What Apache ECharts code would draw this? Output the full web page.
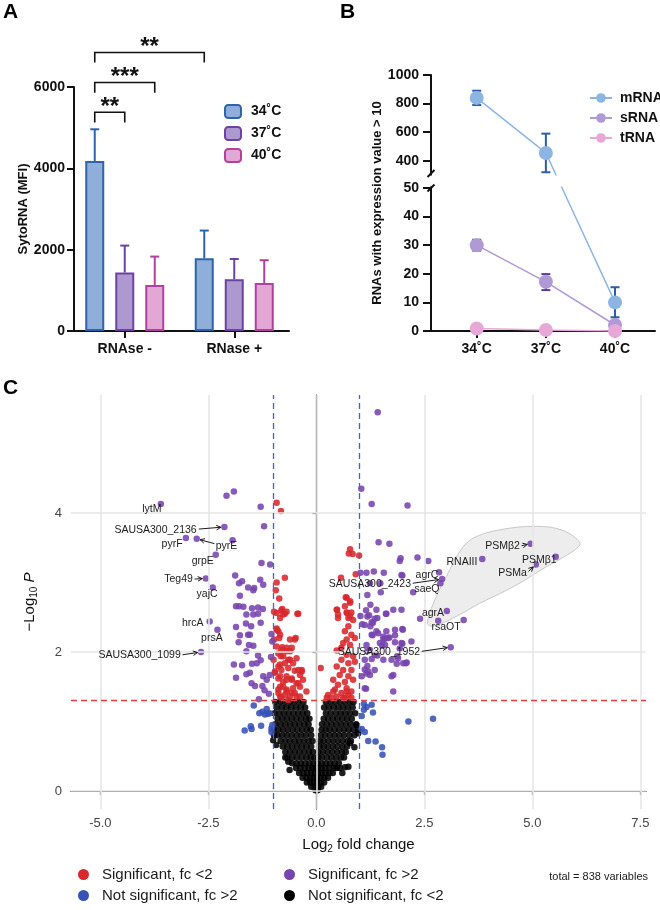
<!DOCTYPE html>
<html><head><meta charset="utf-8">
<script src="https://cdn.jsdelivr.net/npm/echarts@6.0.0/dist/echarts.min.js"></script>
<style>html,body{margin:0;padding:0;background:#fff}#c{width:660px;height:910px}</style>
</head><body><div id="c"></div>
<script>
// ================= DATA =================
// Panel A
const groupsA = ['RNAse -', 'RNase +'];
const tempsA = ['34˚C', '37˚C', '40˚C'];
const meanA34 = [4180, 1790];
const upperA34 = [4960, 2470];
const meanA37 = [1440, 1270];
const upperA37 = [2100, 1770];
const meanA40 = [1130, 1180];
const upperA40 = [1830, 1740];
const ticksA = [0, 2000, 4000, 6000];
// significance: [fromGroup, fromBar, toGroup, toBar, stars]
const sigA = [[0, 0, 0, 1, '**'], [0, 0, 0, 2, '***'], [0, 0, 1, 0, '**']];

// Panel B
const tempsB = ['34˚C', '37˚C', '40˚C'];
const mRNA = [840, 455, 10];
const mRNAlow = [790, 320, 4.8];
const mRNAhigh = [890, 590, 15.3];
const sRNA = [30, 17.2, 2.1];
const sRNAlow = [28.1, 14.3, null];
const sRNAhigh = [31.9, 19.9, null];
const tRNA = [0.9, 0.35, 0];
const ticksBlow = [0, 10, 20, 30, 40, 50];
const ticksBhigh = [400, 600, 800, 1000];

// Panel C (volcano): [log2FC, -log10 P]
const sigLargeFC = [ // purple
[-3.60,4.13],[-2.13,3.80],[-3.02,3.64],[-2.77,3.63],[-1.94,3.61],[-2.33,3.40],[-2.56,3.06],[-2.40,2.93],[-2.47,2.44],[-2.29,2.32],[-2.67,2.00],
[-2.08,4.25],[-1.91,4.31],[-1.29,4.09],[-1.21,3.81],[-1.27,3.28],[-1.07,3.26],
[-1.88,3.10],[-1.79,2.99],[-1.72,3.02],[-1.58,2.93],[-1.44,2.92],[-1.46,2.89],[-1.30,3.04],[-1.23,2.97],[-1.77,2.81],
[-1.86,2.66],[-1.79,2.66],[-1.69,2.65],[-1.49,2.63],[-1.35,2.64],[-1.24,2.62],[-1.46,2.54],[-1.62,2.54],[-1.35,2.55],
[-1.86,2.36],[-1.63,2.41],[-1.51,2.37],[-1.29,2.42],[-1.04,2.26],[-1.58,2.25],[-1.77,2.24],[-1.54,2.25],
[-1.80,2.14],[-1.56,2.10],[-1.46,2.09],[-1.62,2.01],[-1.35,1.95],[-1.02,2.15],
[-1.91,1.82],[-1.72,1.81],[-1.49,1.83],[-1.38,1.84],[-1.29,1.88],[-1.05,1.93],
[-1.54,1.70],[-1.62,1.68],[-1.86,1.63],[-1.23,1.65],[-1.15,1.60],[-1.25,1.51],[-1.08,1.67],[-1.50,1.55],[-1.42,1.51],[-1.33,1.32],[-1.20,1.45],[-1.10,1.40],
[1.42,5.45],[1.04,4.35],[1.28,4.13],[2.11,4.11],[1.44,3.58],[1.69,3.56],[1.95,3.35],[2.34,3.36],[2.59,3.31],[3.84,3.34],[4.96,3.56],[5.54,3.37],[5.08,3.26],
[2.84,3.15],[2.91,3.05],[2.87,2.99],[1.33,3.16],[1.56,3.14],[1.99,3.10],[1.02,3.14],[1.16,3.14],[1.97,3.11],[1.93,3.31],
[1.24,2.99],[1.48,2.99],[1.49,2.86],[2.24,2.86],[1.18,2.82],[1.25,2.68],[1.61,2.55],[1.15,2.60],[1.22,2.53],[1.39,2.61],[1.78,2.61],[1.97,2.61],
[3.02,2.59],[2.82,2.45],[3.41,2.46],[2.40,2.48],[1.99,2.33],[1.35,2.48],[1.41,2.49],[1.02,2.52],[1.06,2.40],[1.25,2.37],[1.12,2.39],[1.31,2.42],
[1.30,2.24],[1.43,2.27],[1.58,2.19],[1.69,2.21],[1.82,2.24],[1.52,2.09],[1.99,2.12],[3.11,2.07],[1.62,2.30],[1.82,2.32],[2.00,2.32],[1.28,2.25],
[1.24,2.03],[1.41,1.95],[1.87,1.94],[1.86,1.83],[2.07,1.84],[1.18,1.80],[1.18,2.51],[1.28,2.43],[1.62,2.55],[1.39,2.30],[1.55,2.22],[1.66,2.20],
[1.47,2.13],[1.59,2.10],[1.82,2.14],[1.93,2.05],[2.20,2.15],[1.18,2.01],[1.35,1.96],[1.12,1.89],[1.28,1.90],[1.74,1.89],[1.89,1.91],[2.09,1.85],
[1.05,1.65],[1.16,1.69],[1.24,1.67],[1.15,1.47],[1.74,1.65],[1.12,1.75],[1.97,2.13],[1.78,1.67],[1.78,1.43],[1.20,1.72],[1.35,1.74],[2.01,1.84],[1.12,1.48],[1.55,1.89],[1.16,2.10],[1.55,2.18]
];
const sigSmallFC = [ // red
[-0.92,4.15],[-0.82,4.03],[-0.73,3.07],[-0.92,3.00],[-0.94,2.89],[-0.86,2.77],[-0.98,2.58],[-0.81,2.60],[-0.73,2.55],[-0.84,2.49],[-0.44,2.55],[-0.92,2.34],[-0.88,2.30],[-0.86,2.20],[-0.98,2.18],
[-0.79,2.62],[-0.48,2.20],[-0.61,2.18],
[-0.57,2.06],[-0.69,2.01],[-0.79,2.07],[-0.88,1.98],[-0.82,1.94],[-0.61,1.89],[-0.46,1.91],[-0.73,1.84],[-0.88,1.79],[-0.96,1.72],[-0.81,1.74],[-0.65,1.77],[-0.50,1.73],[-0.34,1.74],[-0.38,1.67],[-0.69,1.65],[-0.88,1.62],[-0.77,1.57],[-0.57,1.60],[-0.42,1.55],[-0.31,1.60],[-0.84,1.50],[-0.69,1.46],[-0.54,1.48],[-0.38,1.50],[-0.88,1.41],[-0.73,1.38],[-0.57,1.41],[-0.46,1.36],[-0.23,1.43],[-0.81,1.34],[-0.65,1.31],
[-0.92,2.56],[-0.77,2.54],[-0.69,2.58],[-0.42,2.55],[-0.50,2.18],[-0.92,2.32],[-0.84,2.25],[-0.92,2.08],[-0.81,2.03],[-0.69,2.06],[-0.61,2.01],[-0.77,1.94],[-0.65,1.89],[-0.54,1.84],[-0.42,1.74],[-0.34,1.72],[-0.84,1.82],[-0.99,1.89],[-0.96,1.70],[-0.84,1.65],[-0.69,1.60],[-0.57,1.62],[-0.46,1.55],[-0.77,1.50],[-0.88,1.46],[-0.69,1.43],[-0.50,1.41],[-0.38,1.36],[-0.61,1.36],[-0.84,1.36],[0.10,1.77],
[0.78,3.48],[0.75,3.42],[0.84,3.41],[0.99,3.39],[0.57,3.07],[0.91,3.12],[0.68,2.79],[0.70,2.78],[0.78,2.71],[0.48,2.61],[0.50,2.54],[0.71,2.56],[0.74,2.49],[0.81,2.57],[0.74,2.37],[0.66,2.30],[0.81,2.25],[0.70,2.18],[0.89,2.20],[0.62,2.13],[0.78,2.10],[0.58,2.06],[0.47,2.02],[0.70,1.96],[0.85,1.94],[0.58,1.89],[0.74,1.84],[0.89,1.86],[0.47,1.79],[0.62,1.74],[0.81,1.74],[0.54,1.67],[0.74,1.65],[0.39,1.60],[0.66,1.57],[0.85,1.60],[0.50,1.53],[0.70,1.48],[0.39,1.43],[0.58,1.41],[0.81,1.43],[0.47,1.36],[0.24,1.34],[0.66,1.34],
[0.47,2.61],[0.70,2.57],[0.78,2.51],[0.50,2.49],[0.85,2.46],[0.78,2.73],[0.66,2.66],[0.43,1.46],[0.27,1.38],[0.35,1.34],[0.62,1.34],[0.74,1.38],[0.81,1.34],[0.70,1.43]
];
const nsLargeFC = [ // blue
[-1.45,1.23],[-1.32,1.12],[-1.25,1.14],[-1.15,1.18],[-1.19,1.10],[-1.12,1.11],[-1.08,1.12],[-1.66,0.87],[-1.52,0.93],[-1.50,0.89],[-1.28,0.94],[-1.04,0.90],[-1.04,0.85],[-1.02,0.95],
[1.10,1.25],[1.28,1.24],[1.31,1.13],[1.16,1.21],[1.05,0.89],[1.12,0.85],[1.20,0.72],[1.37,0.71],[1.52,0.63],[1.53,0.52],[2.13,1.00],[2.70,1.04],[1.05,1.08],[1.10,1.17]
];
// black: rows of [-log10 P, [log2FC ...]]
const nsSmallRows = [
[1.28,[-0.95,-0.84,-0.73,-0.62,-0.52,-0.41,-0.30,0.22,0.33,0.44,0.55,0.66,0.77,0.86]],
[1.20,[-0.92,-0.80,-0.69,-0.58,-0.47,-0.36,-0.26,0.18,0.29,0.40,0.51,0.62,0.73,0.84]],
[1.12,[-0.97,-0.86,-0.75,-0.64,-0.53,-0.42,-0.31,-0.21,0.22,0.33,0.45,0.56,0.67,0.78,0.90]],
[1.04,[-0.90,-0.79,-0.68,-0.57,-0.46,-0.35,-0.24,-0.16,0.17,0.27,0.38,0.49,0.60,0.71,0.82]],
[0.96,[-0.95,-0.83,-0.72,-0.61,-0.50,-0.39,-0.28,-0.18,0.13,0.24,0.35,0.46,0.57,0.68,0.79,0.92]],
[0.88,[-0.99,-0.88,-0.77,-0.66,-0.55,-0.44,-0.33,-0.22,-0.13,0.12,0.21,0.31,0.42,0.53,0.64,0.75,0.86,0.97]],
[0.80,[-0.90,-0.79,-0.68,-0.57,-0.46,-0.35,-0.24,-0.12,0.10,0.20,0.31,0.42,0.53,0.64,0.76,0.88]],
[0.72,[-0.83,-0.72,-0.61,-0.50,-0.40,-0.29,-0.18,-0.09,0.08,0.17,0.28,0.39,0.50,0.61,0.72,0.80]],
[0.64,[-0.78,-0.67,-0.56,-0.45,-0.34,-0.23,-0.12,0.07,0.17,0.27,0.38,0.49,0.60,0.71]],
[0.56,[-0.72,-0.61,-0.50,-0.39,-0.28,-0.17,-0.08,0.05,0.15,0.26,0.37,0.48,0.59,0.68]],
[0.48,[-0.67,-0.56,-0.45,-0.34,-0.23,-0.13,-0.05,0.04,0.13,0.24,0.35,0.46,0.57,0.64]],
[0.40,[-0.56,-0.46,-0.36,-0.26,-0.16,-0.07,0.03,0.12,0.22,0.32,0.42,0.52]],
[0.33,[-0.47,-0.37,-0.27,-0.18,-0.09,-0.02,0.04,0.12,0.21,0.30,0.40,0.47]],
[0.26,[-0.40,-0.30,-0.21,-0.12,-0.04,0.04,0.12,0.21,0.30,0.38]],
[0.19,[-0.32,-0.23,-0.14,-0.06,0.02,0.10,0.18,0.27]],
[0.12,[-0.22,-0.14,-0.06,0.02,0.10,0.18]],
[0.06,[-0.12,-0.04,0.04,0.11]],
[0.01,[-0.02,0.03]]
];
const nsSmallExtra = [[-1.00,0.73],[-0.65,0.42],[0.66,0.34],[0.54,0.33],[0.78,0.69],[0.97,0.83],[0.74,0.35],[-0.98,0.80],[-0.93,0.66],[-0.62,0.30],[0.60,0.26],[0.88,0.63],[-0.72,0.48],[0.92,0.95]];
const ticksCx = [-5, -2.5, 0, 2.5, 5, 7.5];
const ticksCy = [0, 2, 4];
const fcCut = 1;
const pCut = 1.301;
// labelled genes: [name, pointX, pointY, textX, textY, align, arrowFromX, arrowFromY]
const volcLabels = [
['lytM',-3.60,4.13,-3.81,4.06,'center',null,null],
['SAUSA300_2136',-2.13,3.80,-2.77,3.76,'right',-2.72,3.77],
['pyrF',-3.02,3.64,-3.34,3.56,'center',null,null],
['pyrE',-2.77,3.63,-2.33,3.52,'left',-2.36,3.56],
['grpE',-2.33,3.40,-2.63,3.31,'center',null,null],
['Teg49',-2.56,3.06,-2.86,3.05,'right',-2.82,3.05],
['yajC',-2.40,2.93,-2.53,2.84,'center',null,null],
['hrcA',-2.47,2.44,-2.86,2.42,'center',null,null],
['prsA',-2.29,2.32,-2.42,2.20,'center',null,null],
['SAUSA300_1099',-2.67,2.00,-3.14,1.95,'right',-3.10,1.96],
['SAUSA300_2423',2.91,3.05,2.19,2.98,'right',2.23,2.99],
['agrC',2.84,3.15,2.56,3.10,'center',null,null],
['saeQ',2.87,2.99,2.56,2.90,'center',null,null],
['RNAIII',3.84,3.34,3.37,3.30,'center',null,null],
['PSMβ2',4.96,3.56,4.71,3.53,'right',4.75,3.53],
['PSMβ1',5.54,3.37,5.16,3.33,'center',null,null],
['PSMa',5.08,3.26,4.87,3.14,'right',4.91,3.16],
['agrA',3.02,2.59,2.70,2.56,'center',null,null],
['rsaOT',2.82,2.45,3.00,2.36,'center',null,null],
['SAUSA300_1952',3.11,2.07,2.40,2.00,'right',2.44,2.01]
];
const blobOutline = [[2.57,2.42],[2.74,2.75],[3.01,3.09],[3.32,3.45],[3.63,3.64],[4.25,3.76],[5.10,3.81],[5.71,3.75],[6.10,3.57],[5.94,3.45],[5.33,3.23],[4.56,2.94],[3.78,2.70],[3.17,2.49],[2.70,2.37]];

// ================= STYLE =================
const FONT = '"Liberation Sans", Arial, Helvetica, sans-serif';
const colA = [{fill:'#8FAEDA', line:'#2F63AA'}, {fill:'#AD99CD', line:'#6B43A4'}, {fill:'#E2A7D4', line:'#B1409F'}];
const colB = {mRNA:['#8DB5E3','#2C5CA5'], sRNA:['#AF9AD5','#5A3C9E'], tRNA:['#E7A8D8','#E7A8D8']};
const colC = {red:'#D8282C', purple:'#7644AD', blue:'#3752B7', black:'#000000'};
const barWidthA = 19, barPitchA = 30;
const bracketLevelsA = [5380, 6110, 6850];
const legDropA = 250;

// broken axis mapping for panel B
function brk(v) { return v <= 50 ? v : 59.5 + (v - 400) / 20; }
function unbrk(d) { return d <= 50 ? d : 400 + (d - 59.5) * 20; }

const boldAxisLabel = {fontFamily: FONT, fontWeight: 'bold', fontSize: 14, color: '#111'};
const blackLine = {lineStyle: {color: '#111', width: 2}};

const nsSmall = [];
nsSmallRows.forEach(r => r[1].forEach(x => nsSmall.push([x, r[0]])));
nsSmallExtra.forEach(p => nsSmall.push(p));

const meansA = [meanA34, meanA37, meanA40];
const uppersA = [upperA34, upperA37, upperA40];
const errA = [];
for (let g = 0; g < groupsA.length; g++) for (let b = 0; b < 3; b++) errA.push([g, meansA[b][g], uppersA[b][g], b]);

const errB = [];
[[mRNA, mRNAlow, mRNAhigh], [sRNA, sRNAlow, sRNAhigh]].forEach((s, si) => {
  s[1].forEach((lo, i) => { if (lo !== null) errB.push([i + 1, brk(lo), brk(s[2][i]), si]); });
});
const errBcol = [colB.mRNA[1], colB.sRNA[1]];

const chart = echarts.init(document.getElementById('c'), null, {renderer: 'canvas'});

const option = {
  backgroundColor: '#fff',
  animation: false,
  textStyle: {fontFamily: FONT},
  grid: [
    {left: 70, top: 87, width: 219, height: 244, containLabel: false, outerBoundsMode: 'none'},
    {left: 431, top: 75, width: 224, height: 256, containLabel: false, outerBoundsMode: 'none'},
    {left: 71, top: 395, width: 575, height: 414, containLabel: false, outerBoundsMode: 'none'}
  ],
  xAxis: [
    {gridIndex: 0, type: 'category', data: groupsA, axisLine: blackLine,
     axisTick: {show: true, alignWithLabel: true, length: 7, lineStyle: {color: '#111', width: 2}},
     axisLabel: Object.assign({margin: 11}, boldAxisLabel), splitLine: {show: false}},
    {gridIndex: 1, type: 'value', min: 0.339, max: 3.578, axisLine: blackLine,
     axisTick: {show: true, length: 7, customValues: [1, 2, 3], lineStyle: {color: '#111', width: 2}},
     axisLabel: Object.assign({margin: 11, customValues: [1, 2, 3], formatter: v => tempsB[Math.round(v) - 1]}, boldAxisLabel),
     splitLine: {show: false}},
    {gridIndex: 2, type: 'value', min: -5.68, max: 7.63, axisLine: {lineStyle: {color: '#111', width: 1.2}},
     axisTick: {show: true, length: 4, customValues: ticksCx, lineStyle: {color: '#333', width: 1.2}},
     axisLabel: {margin: 8, customValues: ticksCx, formatter: v => v.toFixed(1), fontSize: 13, color: '#444', fontFamily: FONT},
     splitLine: {show: false},
     name: '{a|Log}{s|2}{a| fold change}', nameLocation: 'middle', nameGap: 27,
     nameTextStyle: {rich: {a: {fontSize: 15, color: '#111', fontFamily: FONT, lineHeight: 18}, s: {fontSize: 10, color: '#111', fontFamily: FONT, lineHeight: 10, verticalAlign: 'bottom'}}}}
  ],
  yAxis: [
    {gridIndex: 0, type: 'value', min: 0, max: 6000, interval: 2000, offset: -4, axisLine: {show: true, lineStyle: {color: '#111', width: 2}},
     axisTick: {show: true, length: 7, lineStyle: {color: '#111', width: 2}},
     axisLabel: Object.assign({margin: 9, formatter: v => String(v)}, boldAxisLabel), splitLine: {show: false},
     name: 'SytoRNA (MFI)', nameLocation: 'middle', nameGap: 42, nameRotate: 90,
     nameTextStyle: {fontFamily: FONT, fontWeight: 'bold', fontSize: 13, color: '#111'}},
    {gridIndex: 1, type: 'value', min: 0, max: 89.5, axisLine: {show: true, lineStyle: {color: '#111', width: 2}},
     axisTick: {show: true, length: 8, customValues: ticksBlow.concat(ticksBhigh.map(brk)), lineStyle: {color: '#111', width: 2}},
     axisLabel: Object.assign({margin: 12, customValues: ticksBlow.concat(ticksBhigh.map(brk)), formatter: d => String(Math.round(unbrk(d)))}, boldAxisLabel),
     splitLine: {show: false},
     name: 'RNAs with expression value > 10', nameLocation: 'middle', nameGap: 47, nameRotate: 90,
     nameTextStyle: {fontFamily: FONT, fontWeight: 'bold', fontSize: 13, color: '#111'}},
    {gridIndex: 2, type: 'value', min: -0.26, max: 5.7, axisLine: {show: true, lineStyle: {color: '#111', width: 1.2}},
     axisTick: {show: true, length: 4, customValues: ticksCy, lineStyle: {color: '#333', width: 1.2}},
     axisLabel: {margin: 9, customValues: ticksCy, fontSize: 13, color: '#444', fontFamily: FONT},
     splitLine: {show: false},
     name: '{a|−Log}{s|10}{i| P}', nameLocation: 'middle', nameGap: 32, nameRotate: 90,
     nameTextStyle: {rich: {a: {fontSize: 15, color: '#111', fontFamily: FONT, lineHeight: 18},
       s: {fontSize: 10, color: '#111', fontFamily: FONT, lineHeight: 10, verticalAlign: 'bottom'},
       i: {fontSize: 15, color: '#111', fontFamily: FONT, fontStyle: 'italic', lineHeight: 18}}}}
  ],
  legend: [
    {data: tempsA, orient: 'vertical', left: 224, top: 104, itemWidth: 16, itemHeight: 13, itemGap: 7, padding: 0,
     textStyle: {fontFamily: FONT, fontWeight: 'bold', fontSize: 14, color: '#111', padding: [0, 0, 0, 5]}, selectedMode: false},
    {data: ['mRNA', 'sRNA', 'tRNA'], orient: 'vertical', left: 589, top: 91, itemWidth: 22, itemHeight: 12, itemGap: 6, padding: 0,
     textStyle: {fontFamily: FONT, fontWeight: 'bold', fontSize: 14, color: '#111', padding: [0, 0, 0, 3]}, selectedMode: false},
    {data: ['Significant, fc <2', 'Not significant, fc >2'], orient: 'vertical', left: 78, top: 867, icon: 'circle', itemWidth: 11, itemHeight: 11, itemGap: 6, padding: 0,
     itemStyle: {opacity: 1}, textStyle: {fontFamily: FONT, fontSize: 15, color: '#1a1a1a', padding: [0, 0, 0, 8]}, selectedMode: false},
    {data: ['Significant, fc >2', 'Not significant, fc <2'], orient: 'vertical', left: 284, top: 867, icon: 'circle', itemWidth: 11, itemHeight: 11, itemGap: 6, padding: 0,
     itemStyle: {opacity: 1}, textStyle: {fontFamily: FONT, fontSize: 15, color: '#1a1a1a', padding: [0, 0, 0, 8]}, selectedMode: false}
  ],
  graphic: [
    {type: 'text', left: 3, top: 2, style: {text: 'A', font: 'bold 21px ' + FONT, fill: '#000'}},
    {type: 'text', left: 340, top: 2, style: {text: 'B', font: 'bold 21px ' + FONT, fill: '#000'}},
    {type: 'text', left: 3, top: 378, style: {text: 'C', font: 'bold 21px ' + FONT, fill: '#000'}},
    {type: 'text', right: 12, top: 871, style: {text: 'total = 838 variables', font: '11px ' + FONT, fill: '#1a1a1a'}}
  ],
  series: []
};

// ---- Panel A series
tempsA.forEach((t, i) => {
  option.series.push({type: 'bar', name: t, xAxisIndex: 0, yAxisIndex: 0, data: meansA[i], barWidth: barWidthA,
    barGap: ((barPitchA - barWidthA) / barWidthA * 100).toFixed(1) + '%',
    itemStyle: {color: colA[i].fill, borderColor: colA[i].line, borderWidth: 2}, z: 2});
});
option.series.push({type: 'custom', xAxisIndex: 0, yAxisIndex: 0, data: errA, z: 3, silent: true,
  renderItem: (p, api) => {
    const g = api.value(0), b = api.value(3);
    const c0 = api.coord([g, api.value(1)]), c1 = api.coord([g, api.value(2)]);
    const x = c0[0] + (b - 1) * barPitchA;
    const st = {stroke: colA[b].line, lineWidth: 2};
    return {type: 'group', children: [
      {type: 'line', shape: {x1: x, y1: c0[1], x2: x, y2: c1[1]}, style: st},
      {type: 'line', shape: {x1: x - 4.5, y1: c1[1], x2: x + 4.5, y2: c1[1]}, style: st}]};
  }});
option.series.push({type: 'custom', xAxisIndex: 0, yAxisIndex: 0, data: sigA.map((s, i) => [s[0], bracketLevelsA[i]]), z: 3, silent: true, clip: false,
  renderItem: (p, api) => {
    const s = sigA[p.dataIndex];
    const lv = bracketLevelsA[p.dataIndex];
    const a = api.coord([s[0], lv]), b = api.coord([s[2], lv]), leg = api.coord([s[0], lv - legDropA]);
    const x1 = a[0] + (s[1] - 1) * barPitchA, x2 = b[0] + (s[3] - 1) * barPitchA;
    const st = {stroke: '#111', lineWidth: 1.6, fill: null};
    return {type: 'group', children: [
      {type: 'polyline', shape: {points: [[x1, leg[1]], [x1, a[1]], [x2, a[1]], [x2, leg[1]]]}, style: st},
      {type: 'text', x: (x1 + x2) / 2, y: a[1] - 5, style: {text: s[4], font: 'bold 24px ' + FONT, fill: '#111', align: 'center', verticalAlign: 'middle'}}]};
  }});

// ---- Panel B series
option.series.push({type: 'custom', xAxisIndex: 1, yAxisIndex: 1, data: errB, z: 2, silent: true,
  renderItem: (p, api) => {
    const c0 = api.coord([api.value(0), api.value(1)]), c1 = api.coord([api.value(0), api.value(2)]);
    const st = {stroke: errBcol[api.value(3)], lineWidth: 2};
    return {type: 'group', children: [
      {type: 'line', shape: {x1: c0[0], y1: c0[1], x2: c0[0], y2: c1[1]}, style: st},
      {type: 'line', shape: {x1: c0[0] - 4.5, y1: c0[1], x2: c0[0] + 4.5, y2: c0[1]}, style: st},
      {type: 'line', shape: {x1: c0[0] - 4.5, y1: c1[1], x2: c0[0] + 4.5, y2: c1[1]}, style: st}]};
  }});
[['mRNA', mRNA], ['sRNA', sRNA], ['tRNA', tRNA]].forEach(s => {
  const c = colB[s[0]][0];
  option.series.push({type: 'line', name: s[0], xAxisIndex: 1, yAxisIndex: 1, data: s[1].map((v, i) => [i + 1, brk(v)]),
    symbol: 'circle', symbolSize: 14, lineStyle: {color: c, width: 1.5}, itemStyle: {color: c}, z: 3, silent: true});
});
// axis break mask
option.series.push({type: 'custom', xAxisIndex: 1, yAxisIndex: 1, data: [[0.339, 52]], z: 10, silent: true, clip: false,
  renderItem: (p, api) => {
    const t = api.coord([0.339, 54.36]), b = api.coord([3.578, 50.52]);
    const s1 = api.coord([0.339, 55.06]), s2 = api.coord([0.339, 50.0]);
    const st = {stroke: '#111', lineWidth: 2};
    return {type: 'group', children: [
      {type: 'rect', shape: {x: t[0] - 3, y: t[1], width: b[0] - t[0] + 6, height: b[1] - t[1]}, style: {fill: '#fff'}},
      {type: 'line', shape: {x1: s1[0] - 3.5, y1: s1[1] + 3.5, x2: s1[0] + 3.5, y2: s1[1] - 3.5}, style: st},
      {type: 'line', shape: {x1: s2[0] - 3.5, y1: s2[1] + 3.5, x2: s2[0] + 3.5, y2: s2[1] - 3.5}, style: st}]};
  }});

// ---- Panel C series
option.series.push({type: 'line', name: '_grid', xAxisIndex: 2, yAxisIndex: 2, data: [], z: 1, silent: true,
  markLine: {silent: true, symbol: ['none', 'none'], label: {show: false}, animation: false,
    lineStyle: {color: '#E6E6E6', width: 1.6, type: 'solid'},
    data: ticksCx.map(v => ({xAxis: v})).concat(ticksCy.map(v => ({yAxis: v})))}});
option.series.push({type: 'custom', xAxisIndex: 2, yAxisIndex: 2, data: [[4, 3]], z: 1.5, silent: true,
  renderItem: (p, api) => ({type: 'polygon', shape: {points: blobOutline.map(q => api.coord(q)), smooth: 0.35},
    style: {fill: 'rgba(225,225,225,0.6)', stroke: '#BDBDBD', lineWidth: 0.8}})});
const scatterC = (name, data, color) => ({type: 'scatter', name, xAxisIndex: 2, yAxisIndex: 2, data, symbolSize: 6.5,
  itemStyle: {color, opacity: 0.88}, z: 3, silent: true});
option.series.push(scatterC('Not significant, fc <2', nsSmall, colC.black));
option.series.push(scatterC('Not significant, fc >2', nsLargeFC, colC.blue));
option.series.push(scatterC('Significant, fc <2', sigSmallFC, colC.red));
option.series.push(scatterC('Significant, fc >2', sigLargeFC, colC.purple));
option.series.push({type: 'line', name: '_cut', xAxisIndex: 2, yAxisIndex: 2, data: [], z: 5, silent: true,
  markLine: {silent: true, symbol: ['none', 'none'], label: {show: false}, animation: false,
    data: [{xAxis: -fcCut, lineStyle: {color: '#4E5FC4', width: 1.3, type: [6, 4]}},
           {xAxis: fcCut, lineStyle: {color: '#4E5FC4', width: 1.3, type: [6, 4]}},
           {yAxis: pCut, lineStyle: {color: '#DD3F44', width: 1.3, type: [6, 4]}}]}});
option.series.push({type: 'custom', xAxisIndex: 2, yAxisIndex: 2, data: volcLabels.map(L => [L[1], L[2]]), z: 8, silent: true, clip: false,
  renderItem: (p, api) => {
    const L = volcLabels[p.dataIndex];
    const pt = api.coord([L[1], L[2]]), tp = api.coord([L[3], L[4]]);
    const kids = [{type: 'text', x: tp[0], y: tp[1], style: {text: L[0], fill: '#1a1a1a', font: '10.5px ' + FONT, align: L[5], verticalAlign: 'middle'}}];
    if (L[6] !== null) {
      const a = api.coord([L[6], L[7]]);
      const dx = pt[0] - a[0], dy = pt[1] - a[1], len = Math.hypot(dx, dy);
      const ux = dx / len, uy = dy / len;
      const ex = pt[0] - ux * 3.5, ey = pt[1] - uy * 3.5;
      const h = 4.5, w = 2.3;
      kids.push({type: 'line', shape: {x1: a[0], y1: a[1], x2: ex, y2: ey}, style: {stroke: '#1a1a1a', lineWidth: 1}});
      kids.push({type: 'polyline', shape: {points: [[ex - ux * h - uy * w, ey - uy * h + ux * w], [ex, ey], [ex - ux * h + uy * w, ey - uy * h - ux * w]]},
        style: {stroke: '#1a1a1a', lineWidth: 1, fill: null}});
    }
    return {type: 'group', children: kids};
  }});

chart.setOption(option);
</script>
</body></html>
